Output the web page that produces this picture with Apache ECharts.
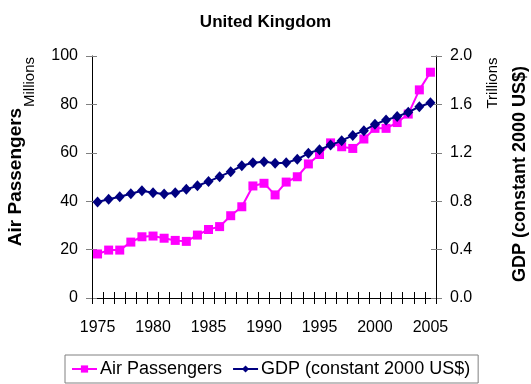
<!DOCTYPE html>
<html>
<head>
<meta charset="utf-8">
<script src="https://cdn.jsdelivr.net/npm/echarts@6/dist/echarts.min.js"></script>
<style>
html,body{margin:0;padding:0;background:#fff;}
#chart{width:531px;height:384px;}
</style>
</head>
<body>
<div id="chart"></div>
<script>
var years = ['1975','1976','1977','1978','1979','1980','1981','1982','1983','1984','1985','1986','1987','1988','1989','1990','1991','1992','1993','1994','1995','1996','1997','1998','1999','2000','2001','2002','2003','2004','2005'];
var airPassengers = [18.2, 19.8, 19.8, 23.1, 25.3, 25.6, 24.7, 23.8, 23.4, 26.0, 28.3, 29.5, 34.0, 37.7, 46.3, 47.4, 42.6, 47.9, 50.1, 55.4, 59.3, 64.1, 62.5, 61.8, 65.7, 70.1, 70.1, 72.5, 76.0, 86.0, 93.3];
var gdp = [0.793, 0.816, 0.837, 0.862, 0.887, 0.870, 0.860, 0.870, 0.898, 0.928, 0.962, 1.003, 1.044, 1.093, 1.118, 1.127, 1.113, 1.118, 1.146, 1.196, 1.226, 1.264, 1.300, 1.344, 1.383, 1.435, 1.471, 1.499, 1.535, 1.581, 1.614];
var leftTicks = [0, 20, 40, 60, 80, 100];
var rightTicks = [0, 0.4, 0.8, 1.2, 1.6, 2.0];

var FONT = 'Liberation Sans, Arial, sans-serif';
var chart = echarts.init(document.getElementById('chart'), null, {renderer: 'canvas'});

var tickStyle = {color: '#000', width: 1};
var option = {
  backgroundColor: '#fff',
  animation: false,
  textStyle: {fontFamily: FONT},
  title: {
    text: 'United Kingdom',
    left: 'center',
    top: 9,
    textStyle: {fontFamily: FONT, fontSize: 17, fontWeight: 'bold', color: '#000'}
  },
  grid: {left: 92, right: 95, top: 56, bottom: 86, containLabel: false},
  legend: {
    bottom: 1,
    left: 65,
    itemWidth: 25,
    itemHeight: 9,
    itemGap: 10,
    padding: [5, 8, 5, 6],
    borderColor: '#808080',
    borderWidth: 1,
    textStyle: {fontFamily: FONT, fontSize: 18, color: '#000', padding: [0, 0, 0, -2]},
    data: ['Air Passengers', 'GDP (constant 2000 US$)']
  },
  xAxis: [{
    type: 'category',
    data: years,
    boundaryGap: true,
    axisLine: {show: true, lineStyle: {color: '#000', width: 1}},
    axisTick: {show: true, inside: false, length: 6, interval: 0, lineStyle: tickStyle},
    axisLabel: {interval: 4, margin: 22, fontSize: 16, color: '#000', fontFamily: FONT},
    splitLine: {show: false}
  }, {
    type: 'category',
    data: years,
    position: 'bottom',
    boundaryGap: true,
    axisLine: {show: false},
    axisTick: {show: true, inside: true, length: 6, interval: 0, lineStyle: tickStyle},
    axisLabel: {show: false},
    splitLine: {show: false}
  }],
  yAxis: [{
    type: 'value',
    min: 0, max: 100, interval: 20,
    position: 'left',
    axisLine: {show: true, lineStyle: {color: '#000', width: 1}},
    axisTick: {show: true, length: 6, lineStyle: {color: '#808080'}},
    axisLabel: {margin: 14, fontSize: 16, color: '#000', fontFamily: FONT},
    splitLine: {show: false}
  }, {
    type: 'value',
    min: 0, max: 2.0, interval: 0.4,
    position: 'right',
    axisLine: {show: true, lineStyle: {color: '#000', width: 1}},
    axisTick: {show: true, length: 6, lineStyle: {color: '#808080'}},
    axisLabel: {margin: 14, fontSize: 16, color: '#000', fontFamily: FONT,
      formatter: function (v) { return v.toFixed(1); }},
    splitLine: {show: false}
  }, {
    type: 'value',
    min: 0, max: 100, interval: 20,
    position: 'left',
    axisLine: {show: false},
    axisTick: {show: true, inside: true, length: 5, lineStyle: {color: '#808080'}},
    axisLabel: {show: false},
    splitLine: {show: false}
  }, {
    type: 'value',
    min: 0, max: 2.0, interval: 0.4,
    position: 'right',
    axisLine: {show: false},
    axisTick: {show: true, inside: true, length: 5, lineStyle: {color: '#808080'}},
    axisLabel: {show: false},
    splitLine: {show: false}
  }],
  series: [{
    name: 'Air Passengers',
    type: 'line',
    xAxisIndex: 0,
    yAxisIndex: 0,
    data: airPassengers,
    symbol: 'rect',
    symbolSize: 9,
    showAllSymbol: true,
    lineStyle: {color: '#FF00FF', width: 2},
    itemStyle: {color: '#FF00FF'},
    z: 2
  }, {
    name: 'GDP (constant 2000 US$)',
    type: 'line',
    xAxisIndex: 0,
    yAxisIndex: 1,
    data: gdp,
    symbol: 'diamond',
    symbolSize: [10, 11],
    showAllSymbol: true,
    lineStyle: {color: '#000080', width: 2},
    itemStyle: {color: '#000080'},
    z: 3
  }],
  graphic: [{
    type: 'text',
    x: 16, y: 177,
    rotation: Math.PI / 2,
    style: {text: 'Air Passengers', fontFamily: FONT, fontSize: 19, fontWeight: 'bold', fill: '#000', align: 'center', verticalAlign: 'middle'}
  }, {
    type: 'text',
    x: 30, y: 82,
    rotation: Math.PI / 2,
    style: {text: 'Millions', fontFamily: FONT, fontSize: 15, fill: '#000', align: 'center', verticalAlign: 'middle'}
  }, {
    type: 'text',
    x: 493, y: 83,
    rotation: Math.PI / 2,
    style: {text: 'Trillions', fontFamily: FONT, fontSize: 15, fill: '#000', align: 'center', verticalAlign: 'middle'}
  }, {
    type: 'text',
    x: 520, y: 174,
    rotation: Math.PI / 2,
    style: {text: 'GDP (constant 2000 US$)', fontFamily: FONT, fontSize: 18, fontWeight: 'bold', fill: '#000', align: 'center', verticalAlign: 'middle'}
  }]
};
chart.setOption(option);
</script>
</body>
</html>
